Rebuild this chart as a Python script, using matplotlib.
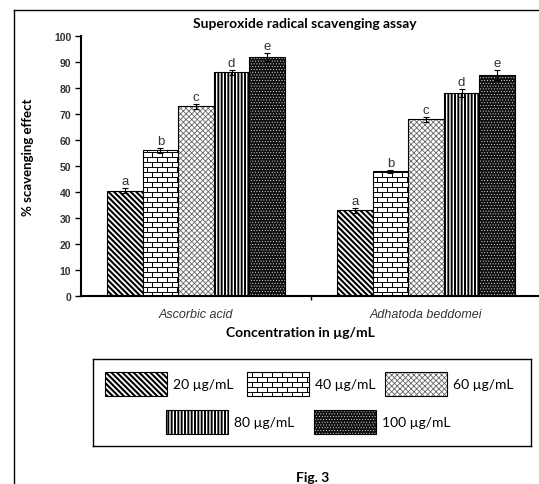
import numpy as np
import matplotlib
matplotlib.use("Agg")
import matplotlib.pyplot as plt
import matplotlib.hatch as mhatch
from matplotlib.path import Path
from matplotlib.patches import Rectangle
from matplotlib.lines import Line2D

groups = ["Ascorbic acid", "Adhatoda beddomei"]
concs = ["20 µg/mL", "40 µg/mL", "60 µg/mL", "80 µg/mL", "100 µg/mL"]
ascorbic = [40.5, 56, 73, 86, 92]
ascorbic_err = [1.0, 1.0, 1.0, 1.0, 1.5]
adhatoda = [33, 48, 68, 78, 85]
adhatoda_err = [1.0, 0.6, 1.0, 1.5, 2.0]
letters = ["a", "b", "c", "d", "e"]

CAL = ["Lato", "DejaVu Sans"]
ARIAL = ["Liberation Sans", "DejaVu Sans"]


# brick hatch, hooked in on the 'O' character
class BrickHatch(mhatch.HatchPatternBase):
    def __init__(self, hatch, density):
        n = hatch.count('O')
        self.rows = 20 * n
        self.cols = 10 * n
        if n:
            self.num_vertices = 2 * self.rows + 2 * self.rows * self.cols + 2 * self.cols
        else:
            self.num_vertices = 0

    def set_vertices_and_codes(self, vertices, codes):
        r, c = self.rows, self.cols
        v = []
        for k in range(r):
            y = (k + 0.5) / r
            v += [(0, y), (1, y)]
        for k in range(r):
            off = 0.5 * (k % 2) / c
            y0 = (k + 0.5) / r
            y1 = min((k + 1.5) / r, 1.0)
            for j in range(c):
                xx = (j + 0.25) / c + off
                v += [(xx, y0), (xx, y1)]
        off = 0.5 * ((r - 1) % 2) / c
        for j in range(c):
            xx = (j + 0.25) / c + off
            v += [(xx, 0), (xx, 0.5 / r)]
        vertices[:] = v
        codes[0::2] = Path.MOVETO
        codes[1::2] = Path.LINETO


mhatch._hatch_types = [BrickHatch if t is mhatch.LargeCircles else t
                       for t in mhatch._hatch_types]

styles = [
    dict(hatch='\\' * 6, color='black', lw=1.5, face='white'),
    dict(hatch='O', color='black', lw=0.7, face='white'),
    dict(hatch='x' * 6, color='#666666', lw=0.6, face='white'),
    dict(hatch='|' * 5, color='black', lw=1.4, face='white'),
    dict(hatch='.' * 6, color='white', lw=0.3, face='#111111'),
]


def hatched(patches, st):
    for p in patches:
        if hasattr(p, 'set_hatch_linewidth'):
            p.set_hatch_linewidth(st['lw'])


fig = plt.figure(figsize=(5.39, 4.85), dpi=100)
ax = fig.add_axes([81 / 539, 1 - 297 / 485, 457 / 539, 260 / 485])

x = np.arange(len(groups))
w = 0.155
for i in range(5):
    vals = [ascorbic[i], adhatoda[i]]
    errs = [ascorbic_err[i], adhatoda_err[i]]
    pos = x + (i - 2) * w
    st = styles[i]
    with plt.rc_context({'hatch.linewidth': st['lw']}):
        b = ax.bar(pos, vals, w, color=st['face'], edgecolor=st['color'],
                   hatch=st['hatch'], linewidth=0)
        hatched(b, st)
    ax.bar(pos, vals, w, fill=False, edgecolor='black', linewidth=0.8)
    ax.errorbar(pos, vals, yerr=errs, fmt='none', ecolor='black',
                elinewidth=0.8, capsize=2.5, capthick=0.8)
    for p, v, e in zip(pos, vals, errs):
        ax.text(p, v + e + 0.4, letters[i], ha='center', va='bottom',
                fontsize=9.5, color='#333333', family=ARIAL)

ax.set_xlim(-0.5, 1.487)
ax.set_ylim(0, 100)
ax.set_yticks(range(0, 101, 10))
ax.set_xticks([0.5])
ax.set_xticklabels([''])
for lab in ax.get_yticklabels():
    lab.set_family(ARIAL)
    lab.set_fontweight('bold')
    lab.set_color('#333333')
ax.tick_params(axis='x', length=3, width=1)
ax.tick_params(axis='y', length=4, width=1, labelsize=7.5, pad=3)
for s in ['top', 'right']:
    ax.spines[s].set_visible(False)
for s in ['left', 'bottom']:
    ax.spines[s].set_linewidth(1.5)

for xi, g in zip(x, groups):
    ax.text(xi, -6.9, g, ha='center', va='center', fontsize=9,
            style='italic', color='#333333', family=ARIAL, clip_on=False)

fig.text(305 / 539, 1 - 24 / 485, "Superoxide radical scavenging assay",
         ha='center', va='center', fontsize=10, fontweight='bold', family=CAL)
fig.text(300 / 539, 1 - 333 / 485, "Concentration in µg/mL",
         ha='center', va='center', fontsize=10, fontweight='bold', family=CAL)
fig.text(28 / 539, 1 - 157 / 485, "% scavenging effect", rotation=90,
         ha='center', va='center', fontsize=9.5, fontweight='bold', family=CAL)
fig.text(313 / 539, 1 - 478 / 485, "Fig. 3", ha='center', va='center',
         fontsize=10, fontweight='bold', family=CAL)

# outer frame (left and top edges)
fig.add_artist(Line2D([14 / 539, 14 / 539], [0, 1 - 11 / 485],
                      transform=fig.transFigure, color='black', lw=1))
fig.add_artist(Line2D([14 / 539, 1], [1 - 11 / 485, 1 - 11 / 485],
                      transform=fig.transFigure, color='black', lw=1))

# legend box drawn in pixel-like units
lax = fig.add_axes([93 / 539, 1 - 447 / 485, 438 / 539, 87 / 485])
lax.set_xlim(0, 438)
lax.set_ylim(87, 0)
lax.set_xticks([])
lax.set_yticks([])
for s in lax.spines.values():
    s.set_linewidth(1)
slots = [(12, 13), (154, 13), (292, 13), (73, 51), (221, 51)]
for i, (lx, ly) in enumerate(slots):
    st = styles[i]
    with plt.rc_context({'hatch.linewidth': st['lw']}):
        r = Rectangle((lx, ly), 62, 24, facecolor=st['face'],
                      edgecolor=st['color'], hatch=st['hatch'], linewidth=0)
        hatched([r], st)
    lax.add_patch(r)
    lax.add_patch(Rectangle((lx, ly), 62, 24, fill=False,
                            edgecolor='black', linewidth=0.8))
    lax.text(lx + 68, ly + 12, concs[i], ha='left', va='center',
             fontsize=10, family=CAL)

fig.savefig("out.png", dpi=100)
